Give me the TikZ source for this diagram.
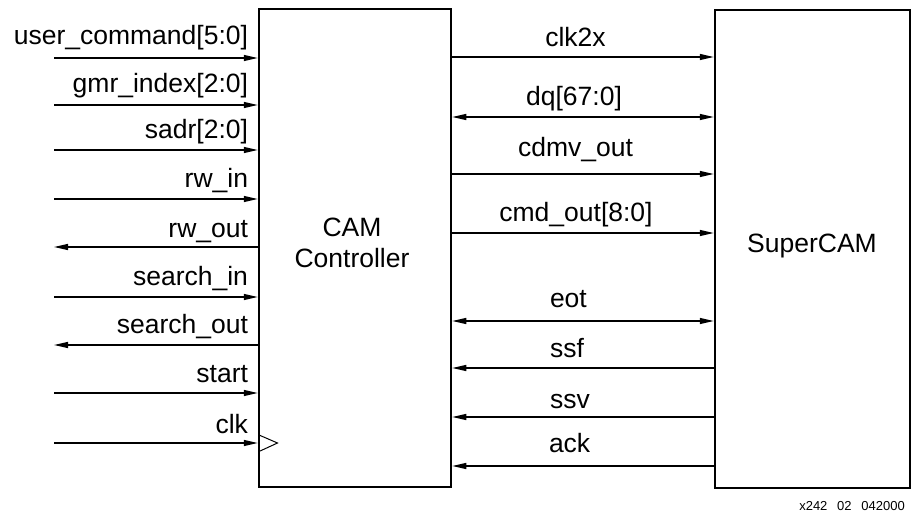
\documentclass[tikz,border=0pt]{standalone}
\usepackage{fontspec}
\setmainfont{Liberation Sans}
\usetikzlibrary{arrows.meta}
\tikzset{
  lbl/.style={font=\fontsize{26.5}{31}\selectfont, inner sep=0pt, outer sep=0pt},
  blk/.style={draw, line width=2.5pt, inner sep=0pt, minimum width=#1},
  sig/.style={line width=1.3pt},
  tip/.tip={Triangle[length=14pt,width=6pt]},
}
\begin{document}
\begin{tikzpicture}[x=1pt,y=-1pt]
\useasboundingbox[fill=white] (0,0) rectangle (911,516);
% blocks
\node[blk=192pt, minimum height=478pt] (cam) at (355,248) {};
\node[blk=195pt, minimum height=478pt] (sup) at (812.5,249) {};
\node[lbl, align=center] (camt) at (352,243) {CAM\\Controller};
\node[lbl, anchor=base] (supt) at (812,252) {SuperCAM};
% left side free ends
\foreach \n/\y in {a/58,b/105,c/150,d/199,e/247,f/297,g/345,h/393,i/443}
  \coordinate (L\n) at (54,\y);
\draw[sig,-tip] (La) -- (La -| cam.west);
\draw[sig,-tip] (Lb) -- (Lb -| cam.west);
\draw[sig,-tip] (Lc) -- (Lc -| cam.west);
\draw[sig,-tip] (Ld) -- (Ld -| cam.west);
\draw[sig,tip-] (Le) -- (Le -| cam.west);
\draw[sig,-tip] (Lf) -- (Lf -| cam.west);
\draw[sig,tip-] (Lg) -- (Lg -| cam.west);
\draw[sig,-tip] (Lh) -- (Lh -| cam.west);
\draw[sig,-tip] (Li) -- (Li -| cam.west);
% clock triangle
\coordinate (ck1) at (259,435);
\coordinate (ck2) at (277.5,443);
\coordinate (ck3) at (259,451.5);
\draw[line width=1pt, line join=miter] (ck1) -- (ck2) -- (ck3);
% left labels
\node[lbl, anchor=base east] (t1) at (248,45) {user\_command[5:0]};
\node[lbl, anchor=base east] (t2) at (248,93) {gmr\_index[2:0]};
\node[lbl, anchor=base east] (t3) at (248,139) {sadr[2:0]};
\node[lbl, anchor=base east] (t4) at (248,188) {rw\_in};
\node[lbl, anchor=base east] (t5) at (248,237) {rw\_out};
\node[lbl, anchor=base east] (t6) at (248,285) {search\_in};
\node[lbl, anchor=base east] (t7) at (248,333) {search\_out};
\node[lbl, anchor=base east] (t8) at (248,382) {start};
\node[lbl, anchor=base east] (t9) at (248,433) {clk};
% right side signals
\foreach \n/\y in {a/57,b/117,c/174,d/233,e/321,f/368,g/417,h/466}
  \coordinate (R\n) at (600,\y);
\draw[sig,-tip] (Ra -| cam.east) -- (Ra -| sup.west);
\draw[sig,tip-tip] (Rb -| cam.east) -- (Rb -| sup.west);
\draw[sig,-tip] (Rc -| cam.east) -- (Rc -| sup.west);
\draw[sig,-tip] (Rd -| cam.east) -- (Rd -| sup.west);
\draw[sig,tip-tip] (Re -| cam.east) -- (Re -| sup.west);
\draw[sig,tip-] (Rf -| cam.east) -- (Rf -| sup.west);
\draw[sig,tip-] (Rg -| cam.east) -- (Rg -| sup.west);
\draw[sig,tip-] (Rh -| cam.east) -- (Rh -| sup.west);
% right labels
\node[lbl, anchor=base] (r1) at (575.5,47) {clk2x};
\node[lbl, anchor=base] (r2) at (574,106) {dq[67:0]};
\node[lbl, anchor=base] (r3) at (575.5,157) {cdmv\_out};
\node[lbl, anchor=base] (r4) at (576,222) {cmd\_out[8:0]};
\node[lbl, anchor=base west] (r5) at (550,307) {eot};
\node[lbl, anchor=base west] (r6) at (550,357) {ssf};
\node[lbl, anchor=base west] (r7) at (550,408) {ssv};
\node[lbl, anchor=base west] (r8) at (549,452) {ack};
% footer
\node[font=\fontsize{13}{15}\selectfont, inner sep=0pt, anchor=base east] (foot) at (905,510) {x242\hspace{0.75em}02\hspace{0.75em}042000};
\end{tikzpicture}
\end{document}
